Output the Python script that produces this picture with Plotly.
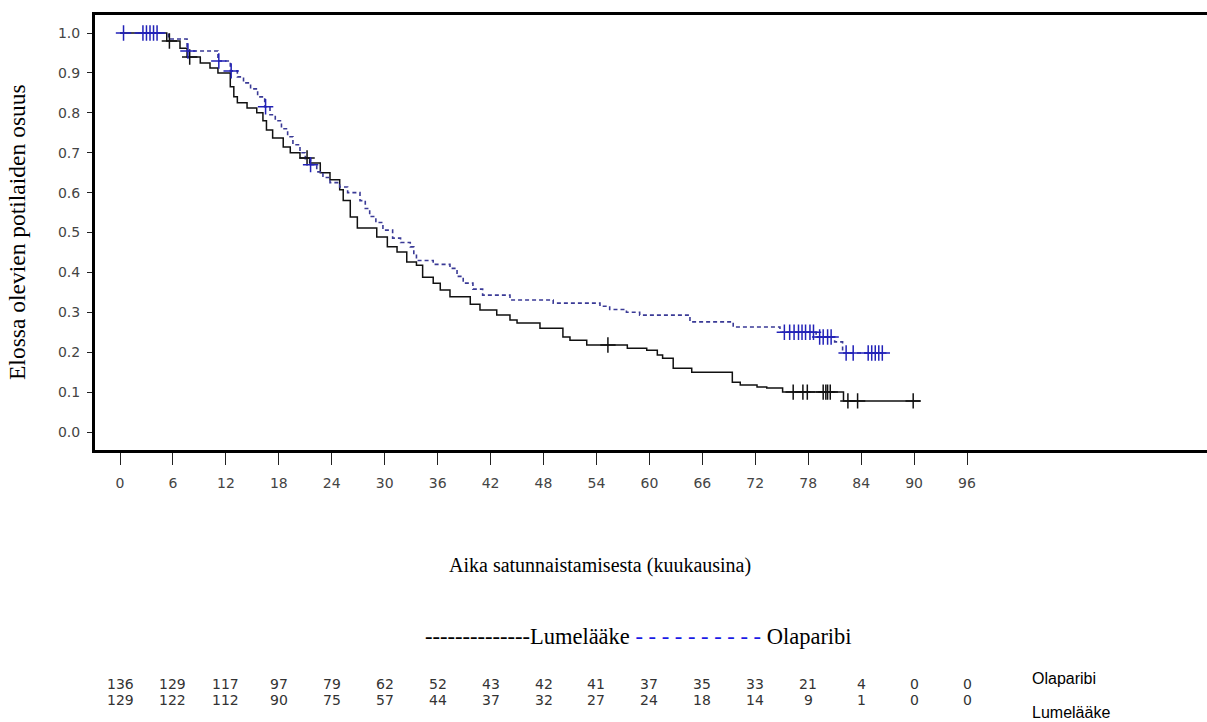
import numpy as np
import plotly.graph_objects as go

# ---------------- data ----------------
# Kaplan-Meier step points (time in months, survival after the step)
olap_t = [0, 5.5, 7.6, 11.1, 12.5, 13.3, 14.0, 14.8, 15.6, 16.4, 17.0, 17.6, 18.3, 19.0, 19.6,
          20.4, 21.0, 21.6, 22.3, 23.0, 23.8, 24.9, 25.8, 27.2, 27.8, 28.3, 29.0, 29.8, 30.9,
          31.8, 32.9, 33.3, 33.6, 35.5, 37.4, 38.2, 38.9, 40.0, 41.1, 44.2, 49.1, 54.4, 55.5,
          57.4, 58.9, 64.6, 69.5, 74.8, 78.9, 81.0, 81.9]
olap_s = [1.0, 0.985, 0.955, 0.93, 0.905, 0.89, 0.875, 0.86, 0.84, 0.815, 0.795, 0.78, 0.76,
          0.74, 0.72, 0.70, 0.685, 0.67, 0.652, 0.638, 0.625, 0.614, 0.60, 0.58, 0.56, 0.54,
          0.525, 0.506, 0.486, 0.475, 0.464, 0.445, 0.43, 0.42, 0.41, 0.39, 0.373, 0.358, 0.343,
          0.331, 0.323, 0.315, 0.307, 0.30, 0.293, 0.276, 0.263, 0.25, 0.238, 0.226, 0.198]
olap_end = 86.4
olap_cens = [0.4, 2.6, 3.0, 3.4, 3.8, 4.2, 7.7, 11.2, 12.6, 16.5, 21.6, 75.3, 75.9, 76.4, 76.9,
             77.3, 77.7, 78.2, 78.6, 79.3, 79.7, 80.2, 80.6, 82.3, 83.1, 84.8, 85.2, 85.6, 86.0, 86.4]

plac_t = [0, 5.3, 6.8, 7.6, 9.1, 10.2, 11.1, 12.5, 12.9, 13.3, 14.4, 15.5, 16.2, 16.6, 17.3,
          18.5, 19.3, 20.4, 21.5, 22.7, 23.8, 24.9, 25.3, 26.1, 26.9, 29.1, 30.3, 31.4, 32.5,
          33.6, 34.3, 35.5, 36.3, 37.4, 39.7, 40.8, 42.7, 44.2, 45.0, 47.6, 50.2, 51.0, 52.9,
          57.5, 59.7, 60.9, 61.5, 62.7, 64.8, 69.4, 70.3, 72.2, 73.3, 75.1, 82.0]
plac_s = [1.0, 0.98, 0.962, 0.94, 0.925, 0.912, 0.90, 0.865, 0.84, 0.825, 0.812, 0.80, 0.78,
          0.757, 0.737, 0.714, 0.70, 0.687, 0.674, 0.65, 0.632, 0.607, 0.58, 0.539, 0.511, 0.489,
          0.464, 0.451, 0.426, 0.418, 0.388, 0.373, 0.356, 0.339, 0.32, 0.306, 0.293, 0.281,
          0.273, 0.26, 0.238, 0.23, 0.218, 0.21, 0.205, 0.193, 0.185, 0.16, 0.15, 0.125, 0.118,
          0.113, 0.11, 0.10, 0.078]
plac_end = 90.7
plac_cens = [5.6, 7.9, 21.2, 55.3, 76.3, 77.4, 77.9, 79.7, 80.0, 80.2, 80.5, 82.5, 83.6, 89.9]

# numbers at risk
risk_months = [0, 6, 12, 18, 24, 30, 36, 42, 48, 54, 60, 66, 72, 78, 84, 90, 96]
risk_olap = [136, 129, 117, 97, 79, 62, 52, 43, 42, 41, 37, 35, 33, 21, 4, 0, 0]
risk_plac = [129, 122, 112, 90, 75, 57, 44, 37, 32, 27, 24, 18, 14, 9, 1, 0, 0]

x_ticks = list(range(0, 97, 6))
y_ticks = [round(0.1 * i, 1) for i in range(11)]

# ---------------- helpers ----------------
W, H = 1207, 722
L, R, T, B = 95, 1207, 15, 450   # plot area in pixels


def px(xp):
    return (xp - L) / (R - L)


def py(yp):
    return (B - yp) / (B - T)


def step_xy(t, s, end):
    xs, ys = [], []
    for i in range(len(t)):
        if i > 0:
            xs.append(t[i]); ys.append(s[i - 1])
        xs.append(t[i]); ys.append(s[i])
    xs.append(end); ys.append(s[-1])
    return xs, ys


def surv_at(t, s, times):
    idx = np.searchsorted(np.array(t), np.array(times), side="right") - 1
    return [s[i] for i in idx]


fig = go.Figure()

ox, oy = step_xy(olap_t, olap_s, olap_end)
bx, by = step_xy(plac_t, plac_s, plac_end)

fig.add_trace(go.Scatter(x=bx, y=by, mode="lines",
                         line=dict(color="#111111", width=1.5), hoverinfo="skip"))
fig.add_trace(go.Scatter(x=ox, y=oy, mode="lines",
                         line=dict(color="#3a3a96", width=1.6, dash="4px,3px"), hoverinfo="skip"))
fig.add_trace(go.Scatter(x=plac_cens, y=surv_at(plac_t, plac_s, plac_cens), mode="markers",
                         marker=dict(symbol="cross-thin", size=11,
                                     line=dict(color="#111111", width=1.5)), hoverinfo="skip"))
fig.add_trace(go.Scatter(x=olap_cens, y=surv_at(olap_t, olap_s, olap_cens), mode="markers",
                         marker=dict(symbol="cross-thin", size=11,
                                     line=dict(color="#2222b8", width=1.5)), hoverinfo="skip"))

tick_font = dict(family="DejaVu Sans", size=14, color="#444444")
serif = "Liberation Serif"

fig.update_layout(
    width=W, height=H,
    margin=dict(l=L, r=W - R, t=T, b=H - B, pad=0),
    paper_bgcolor="white", plot_bgcolor="white",
    showlegend=False,
    xaxis=dict(range=[(L - 120) / 8.823, (R - 120) / 8.823],
               tickvals=x_ticks, ticktext=[str(v) for v in x_ticks],
               ticks="outside", ticklen=12, tickwidth=1, tickcolor="#222222",
               tickfont=tick_font, ticklabelstandoff=6,
               showline=True, linewidth=3, linecolor="black", mirror=True,
               showgrid=False, zeroline=False),
    yaxis=dict(range=[-(B - 432) / 399, 1 + (33 - T) / 399],
               tickvals=y_ticks, ticktext=[f"{v:.1f}" for v in y_ticks],
               ticks="outside", ticklen=5, tickwidth=1, tickcolor="#222222",
               tickfont=tick_font, ticklabelstandoff=4,
               showline=True, linewidth=3, linecolor="black", mirror=False,
               showgrid=False, zeroline=False),
)

ann = []
ann.append(dict(text="Elossa olevien potilaiden osuus", x=px(17), y=py(232), xref="paper",
                yref="paper", textangle=-90, showarrow=False,
                font=dict(family=serif, size=23.5, color="black"),
                xanchor="center", yanchor="middle"))
ann.append(dict(text="Aika satunnaistamisesta (kuukausina)", x=px(600), y=py(565),
                xref="paper", yref="paper", showarrow=False,
                font=dict(family=serif, size=20, color="black"),
                xanchor="center", yanchor="middle"))
legend_txt = ("--------------Lumelääke <span style='color:#1a1ae6'>- - - - - - - - - -</span> Olaparibi")
ann.append(dict(text=legend_txt, x=px(638), y=py(636), xref="paper", yref="paper",
                showarrow=False, font=dict(family=serif, size=22.5, color="black"),
                xanchor="center", yanchor="middle"))

risk_font = dict(family="DejaVu Sans", size=14, color="#333333")
for m, a, b in zip(risk_months, risk_olap, risk_plac):
    ann.append(dict(text=str(a), x=m, y=py(684), xref="x", yref="paper", showarrow=False,
                    font=risk_font, xanchor="center", yanchor="middle"))
    ann.append(dict(text=str(b), x=m, y=py(700), xref="x", yref="paper", showarrow=False,
                    font=risk_font, xanchor="center", yanchor="middle"))

lab_font = dict(family="Liberation Sans", size=16, color="black")
ann.append(dict(text="Olaparibi", x=px(1030), y=py(678), xref="paper", yref="paper",
                showarrow=False, font=lab_font, xanchor="left", yanchor="middle"))
ann.append(dict(text="Lumelääke", x=px(1030), y=py(712), xref="paper", yref="paper",
                showarrow=False, font=lab_font, xanchor="left", yanchor="middle"))

fig.update_layout(annotations=ann)
fig.write_html("out.html")
